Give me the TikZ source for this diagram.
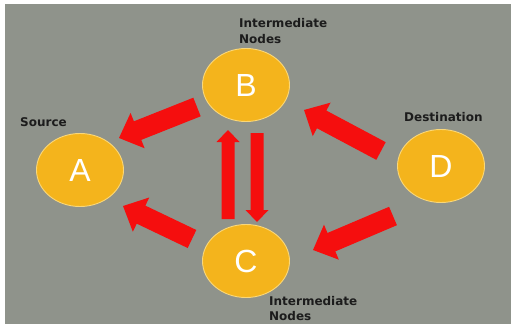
\documentclass[tikz,border=0pt]{standalone}
\usepackage{fontspec}
\setmainfont{DejaVu Sans}
\newfontfamily\letterfont{Liberation Sans}
\usetikzlibrary{shapes.geometric,calc}
\definecolor{bggray}{RGB}{143,147,139}
\definecolor{nodeyellow}{RGB}{244,180,28}
\definecolor{nodeedge}{RGB}{250,215,120}
\definecolor{arrowred}{RGB}{245,14,14}
\definecolor{labeldark}{RGB}{28,28,28}
\newcommand\blkarrow[5]{%
  \fill[arrowred] let \p1=(#1), \p2=(#2),
    \n1={atan2(\y2-\y1,\x2-\x1)}, \n2={veclen(\x2-\x1,\y2-\y1)} in
    [shift={(\p1)}, rotate=\n1]
    (0,-#3) -- (\n2-#5,-#3) -- (\n2-#5,-#4) -- (\n2,0) -- (\n2-#5,#4) -- (\n2-#5,#3) -- (0,#3) -- cycle;}
\begin{document}
\begin{tikzpicture}[x=1pt,y=-1pt,
  rnode/.style={ellipse, minimum width=87pt, minimum height=73pt, inner sep=0pt,
    fill=nodeyellow, draw=nodeedge, line width=0.9pt, text=white,
    font=\letterfont\fontsize{32}{32}\selectfont},
  lbl/.style={anchor=base west, inner sep=0pt, text=labeldark, align=left,
    font=\bfseries\fontsize{12}{16}\selectfont}]
\useasboundingbox (0,0) rectangle (519,324);
\clip (0,0) rectangle (519,324);
\fill[white] (0,0) rectangle (519,324);
\fill[bggray] (5,4) rectangle (511,324);

\node[rnode] (A) at (80,170) {A};
\node[rnode] (B) at (246,85) {B};
\node[rnode] (C) at (246,261) {C};
\node[rnode] (D) at (441,166) {D};

\node[lbl] (lblB) at (239,43) {Intermediate\\Nodes};
\node[lbl, font=\bfseries\fontsize{12}{15}\selectfont] (lblC) at (269,320.5) {Intermediate\\Nodes};
\node[lbl] (lblA) at (20,126) {Source};
\node[lbl] (lblD) at (404,121) {Destination};

\coordinate (ba1) at (197,107); \coordinate (ba2) at (119,138);
\coordinate (ca1) at (192,239); \coordinate (ca2) at (123,206);
\coordinate (db1) at (381,151); \coordinate (db2) at (304,110);
\coordinate (dc1) at (393,216); \coordinate (dc2) at (313,250);
\coordinate (cb1) at (228,219); \coordinate (cb2) at (228,130);
\coordinate (bc1) at (257,133); \coordinate (bc2) at (257,222);

\blkarrow{ba1}{ba2}{10}{19}{20}
\blkarrow{ca1}{ca2}{10}{19}{20}
\blkarrow{db1}{db2}{10}{19}{20}
\blkarrow{dc1}{dc2}{10}{19}{20}
\blkarrow{cb1}{cb2}{6.5}{11.5}{12}
\blkarrow{bc1}{bc2}{6.5}{11.5}{12}
\end{tikzpicture}
\end{document}
